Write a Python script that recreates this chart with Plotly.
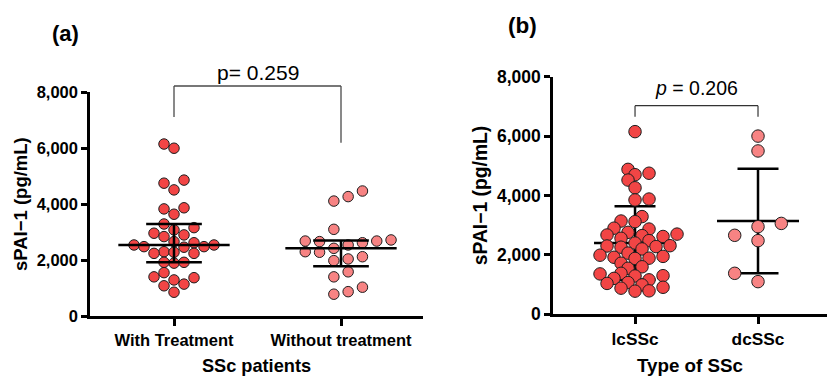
import numpy as np
import plotly.graph_objects as go

# ---------------- data ----------------
cat_a = ["With Treatment", "Without treatment"]
with_treatment = [6000, 6150, 4860, 4750, 4510, 3830, 3870, 3640, 3290, 3160,
                  3080, 2900, 2960, 2840, 2660, 2540, 2620, 2540, 2300, 2460,
                  2480, 2240, 2280, 2480, 2240, 1890, 1920, 1920, 1400, 1290,
                  1550, 1370, 1140, 1080, 850]
without_treatment = [4110, 4270, 4470, 3100, 2420, 2720, 2680, 2660, 2680, 2620,
                     2540, 2300, 2280, 2040, 2120, 1980, 1400, 1580, 780, 870, 1030]

cat_b = ["lcSSc", "dcSSc"]
lcssc = [6150, 4880, 4750, 4700, 4520, 4260, 3880, 3850, 3290,
         3140, 3120,
         2900, 2870, 2760, 2700, 2670, 2650, 2620, 2560,
         2480, 2400, 2310, 2300, 2280, 2260, 2200,
         2060, 1990, 1950, 1920, 1890, 1880,
         1720, 1600, 1550,
         1380, 1360, 1300, 1290, 1210,
         1160, 1070, 1040, 990,
         910, 880, 790, 780]
dcssc = [6000, 5500, 3060, 2660, 2950, 2480, 1380, 1100]

y_ticks = [0, 2000, 4000, 6000, 8000]
y_title = "sPAI\u22121 (pg/mL)"
x_title_a = "SSc patients"
x_title_b = "Type of SSc"
p_text_a = "p= 0.259"
p_text_b = "<i>p</i> = 0.206"

# ---------------- layout geometry ----------------
W, H = 827, 378
XA_DOM = [90 / W, 423 / W]
YA_DOM = [1 - 316 / H, 1 - 92.3 / H]
XB_DOM = [553 / W, 1.0]
YB_DOM = [1 - 314.3 / H, 1 - 76.7 / H]
XA_RANGE = [-0.503, 1.491]
XB_RANGE = [-0.667, 1.561]
Y_RANGE = [0, 8000]

FILL_DARK = "#F24545"
FILL_LIGHT = "#F78383"
EDGE = "#1e1e1e"
FONT = "Liberation Sans, Arial, sans-serif"


def scales(xdom, ydom, xr):
    unit_px = W * (xdom[1] - xdom[0]) / (xr[1] - xr[0])
    px_per_val = H * (ydom[1] - ydom[0]) / (Y_RANGE[1] - Y_RANGE[0])
    return unit_px, px_per_val


def swarm(vals, unit_px, px_per_val, step_px, half, thr_px):
    """Greedy beeswarm: returns x offsets in category units."""
    vals = np.asarray(vals, float)
    if half:
        cands = []
        for k in range(30):
            cands += [-(k + 0.5), (k + 0.5)] if k % 2 == 0 else [(k + 0.5), -(k + 0.5)]
    else:
        cands = [0]
        for k in range(1, 30):
            cands += [-k, k] if k % 2 else [k, -k]
    placed = []
    offs = np.zeros(len(vals))
    for i in np.argsort(vals):
        y = vals[i] * px_per_val
        for c in cands:
            x = c * step_px
            if all((x - px) ** 2 + (y - py) ** 2 >= thr_px ** 2 for px, py in placed):
                break
        placed.append((x, y))
        offs[i] = x / unit_px
    return offs


def summary_xy(c, mid, lo, hi):
    xs = [c - 1 / 3, c + 1 / 3, None, c - 1 / 6, c + 1 / 6, None,
          c - 1 / 6, c + 1 / 6, None, c, c]
    ys = [mid, mid, None, hi, hi, None, lo, lo, None, lo, hi]
    return xs, ys


fig = go.Figure()

# ---------------- panel (a): median + IQR, lines on top ----------------
ua, pa = scales(XA_DOM, YA_DOM, XA_RANGE)
groups_a = [(with_treatment, FILL_DARK, 10.0, False, 10.0),
            (without_treatment, FILL_LIGHT, 14.3, True, 10.5)]
for ci, (vals, col, step, half, thr) in enumerate(groups_a):
    off = swarm(vals, ua, pa, step, half, thr)
    fig.add_trace(go.Scatter(
        x=ci + off, y=vals, mode="markers", xaxis="x", yaxis="y",
        marker=dict(size=10.5, color=col, line=dict(color=EDGE, width=1)),
        showlegend=False, cliponaxis=False, hoverinfo="y"))
for ci, vals in enumerate([with_treatment, without_treatment]):
    q1, med, q3 = np.percentile(vals, [25, 50, 75], method="weibull")
    xs, ys = summary_xy(ci, med, q1, q3)
    fig.add_trace(go.Scatter(x=xs, y=ys, mode="lines", xaxis="x", yaxis="y",
                             line=dict(color="black", width=2.5),
                             showlegend=False, hoverinfo="skip"))

# ---------------- panel (b): mean +/- SD, lines behind ----------------
ub, pb = scales(XB_DOM, YB_DOM, XB_RANGE)
for ci, vals in enumerate([lcssc, dcssc]):
    m = float(np.mean(vals))
    sd = float(np.std(vals, ddof=1))
    xs, ys = summary_xy(ci, m, m - sd, m + sd)
    fig.add_trace(go.Scatter(x=xs, y=ys, mode="lines", xaxis="x2", yaxis="y2",
                             line=dict(color="black", width=2.5),
                             showlegend=False, hoverinfo="skip"))
groups_b = [(lcssc, FILL_DARK, 7.0, False, 8.5),
            (dcssc, FILL_LIGHT, 23.3, False, 12.0)]
for ci, (vals, col, step, half, thr) in enumerate(groups_b):
    off = swarm(vals, ub, pb, step, half, thr)
    fig.add_trace(go.Scatter(
        x=ci + off, y=vals, mode="markers", xaxis="x2", yaxis="y2",
        marker=dict(size=12.5, color=col, line=dict(color=EDGE, width=1)),
        showlegend=False, cliponaxis=False, hoverinfo="y"))

# ---------------- axes ----------------
def xaxis(dom, rng, cats, title, fs_tick, fs_title, anchor):
    return dict(domain=dom, range=rng, anchor=anchor, tickmode="array",
                tickvals=list(range(len(cats))), ticktext=cats, automargin=False,
                showline=True, linecolor="black", linewidth=2.5,
                ticks="outside", ticklen=7, tickwidth=2.5, tickcolor="black",
                showgrid=False, zeroline=False,
                tickfont=dict(family=FONT, size=fs_tick, color="black", weight="bold"),
                title=dict(text=title, standoff=12,
                           font=dict(family=FONT, size=fs_title, color="black", weight="bold")))


def yaxis(dom, title, fs_tick, fs_title, anchor):
    return dict(domain=dom, range=Y_RANGE, anchor=anchor, tickmode="array",
                tickvals=y_ticks, tickformat=",", automargin=False,
                showline=True, linecolor="black", linewidth=2.5,
                ticks="outside", ticklen=6, tickwidth=2.5, tickcolor="black",
                showgrid=False, zeroline=False,
                tickfont=dict(family=FONT, size=fs_tick, color="black", weight="bold"),
                title=dict(text=title, standoff=5,
                           font=dict(family=FONT, size=fs_title, color="black", weight="bold")))


fig.update_layout(
    template="none",
    width=W, height=H, margin=dict(l=0, r=0, t=0, b=0, pad=0),
    paper_bgcolor="white", plot_bgcolor="white", showlegend=False,
    xaxis=xaxis(XA_DOM, XA_RANGE, cat_a, x_title_a, 16.5, 18.2, "y"),
    yaxis=yaxis(YA_DOM, y_title, 16.5, 18.5, "x"),
    xaxis2=xaxis(XB_DOM, XB_RANGE, cat_b, x_title_b, 17.3, 18.8, "y2"),
    yaxis2=yaxis(YB_DOM, y_title, 17.5, 19.3, "x2"),
)

# ---------------- significance brackets ----------------
def bracket(xref, ytop_px, yl_px, yr_px, color, width):
    yt, yl, yr = 1 - ytop_px / H, 1 - yl_px / H, 1 - yr_px / H
    ln = dict(color=color, width=width)
    for x0, y0, x1, y1 in [(0, yl, 0, yt), (0, yt, 1, yt), (1, yt, 1, yr)]:
        fig.add_shape(type="line", xref=xref, yref="paper",
                      x0=x0, y0=y0, x1=x1, y1=y1, line=ln)


bracket("x", 86, 117, 142.7, "#4a4a4a", 1.3)
bracket("x2", 105.7, 116.7, 116.7, "#333333", 1.2)

fig.add_annotation(x=0.5, y=1 - 72 / H, xref="x", yref="paper", text=p_text_a,
                   showarrow=False, xanchor="center", yanchor="middle",
                   font=dict(family=FONT, size=21, color="black"))
fig.add_annotation(x=0.5, y=1 - 88 / H, xref="x2", yref="paper", text=p_text_b,
                   showarrow=False, xanchor="center", yanchor="middle",
                   font=dict(family=FONT, size=19.5, color="black"))

fig.add_annotation(x=65 / W, y=1 - 33 / H, xref="paper", yref="paper", text="(a)",
                   showarrow=False, xanchor="center", yanchor="middle",
                   font=dict(family=FONT, size=22, color="black", weight="bold"))
fig.add_annotation(x=522 / W, y=1 - 25 / H, xref="paper", yref="paper", text="(b)",
                   showarrow=False, xanchor="center", yanchor="middle",
                   font=dict(family=FONT, size=22.5, color="black", weight="bold"))

fig.write_html("out.html", config={"displayModeBar": False},
               post_script="document.body.style.margin='0';document.body.style.padding='0';")
